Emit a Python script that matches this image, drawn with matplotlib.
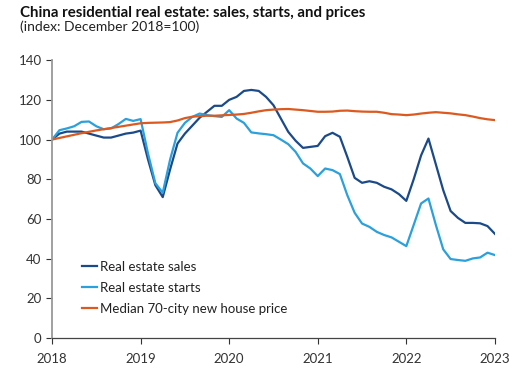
import numpy as np
import matplotlib.pyplot as plt

plt.rcParams['font.family'] = ['Lato', 'DejaVu Sans']

# monthly index values, Dec 2018 = 100, Jan 2018 .. Jan 2023
sales = [100, 103, 104, 104, 104, 103, 102, 101, 101, 102, 103, 103.5,
         104.5, 90, 77, 71, 85, 98, 103, 107, 111, 114, 117, 117,
         120, 121.5, 124.5, 125, 124.5, 121.5, 117.3, 110.6, 103.9, 99.4, 95.8, 96.3,
         96.8, 101.7, 103.4, 101.4, 91.3, 80.7, 78.2, 79, 78.2, 76.2, 74.9, 72.5,
         69.1, 80, 92, 100.5, 87.5, 74.5, 64, 60.5, 58, 58, 57.8, 56.4, 52.5]
starts = [100, 104.7, 105.6, 106.7, 108.9, 109.1, 106.7, 105.2, 105.6, 107.8, 110.4, 109.4,
          110.3, 93, 78, 73.2, 90, 103.4, 108.4, 111.4, 113.1, 112.3, 111.8, 111.4,
          114.8, 110.6, 108.4, 103.6, 103.1, 102.7, 102.2, 100, 97.7, 93.8, 88, 85.4,
          81.6, 85.4, 84.6, 82.6, 72, 63.1, 57.7, 56, 53.5, 51.9, 50.7, 48.5,
          46.3, 57, 67.8, 70.3, 57, 44.7, 39.8, 39.3, 38.9, 40.1, 40.6, 43, 41.8]
prices = [100, 100.8, 101.6, 102.4, 103.2, 103.9, 104.6, 105.2, 105.8, 106.4, 107, 107.6,
          108.2, 108.4, 108.5, 108.6, 108.8, 109.6, 110.8, 111.5, 111.8, 112, 112, 112.2,
          112.4, 112.6, 112.9, 113.5, 114.2, 114.8, 115.1, 115.3, 115.4, 115.1, 114.8, 114.4,
          114, 114, 114.1, 114.5, 114.6, 114.3, 114.1, 114, 114, 113.5, 112.8, 112.6,
          112.3, 112.6, 113.1, 113.5, 113.8, 113.5, 113.2, 112.7, 112.3, 111.6, 110.8, 110.2, 109.8]

labels = ['Real estate sales', 'Real estate starts', 'Median 70-city new house price']
colors = ['#1b4a8a', '#2aa0dd', '#dc5a1f']

x = 2018 + np.arange(len(sales)) / 12

fig = plt.figure(figsize=(5.31, 3.76), dpi=100)
ax = fig.add_axes([0.098, 0.101, 0.834, 0.739])

for y, lab, c in zip([sales, starts, prices], labels, colors):
    ax.plot(x, y, color=c, lw=1.6, label=lab)

ax.set_xlim(2018, 2023)
ax.set_ylim(0, 140)
ax.set_xticks(range(2018, 2024))
ax.set_yticks(range(0, 141, 20))
ax.tick_params(labelsize=9.5, colors='#333333', length=4, width=0.8)
ax.tick_params(axis='x', pad=7)
for s in ['top', 'right']:
    ax.spines[s].set_visible(False)
ax.spines['left'].set_color('#999999')
ax.spines['left'].set_linewidth(1.3)
ax.spines['bottom'].set_color('#444444')
ax.spines['bottom'].set_linewidth(0.9)

ax.legend(loc='lower left', bbox_to_anchor=(0.04, 0.04), frameon=False, fontsize=9.5,
          handlelength=1.2, handletextpad=0.2, labelspacing=0.7, labelcolor='#222222')

fig.text(20 / 531, 1 - 6 / 376, 'China residential real estate: sales, starts, and prices',
         fontsize=10.8, fontweight='bold', va='top', ha='left', color='#111111')
fig.text(20 / 531, 1 - 20 / 376, '(index: December 2018=100)',
         fontsize=10, va='top', ha='left', color='#222222')

fig.savefig('out.png', dpi=100)
